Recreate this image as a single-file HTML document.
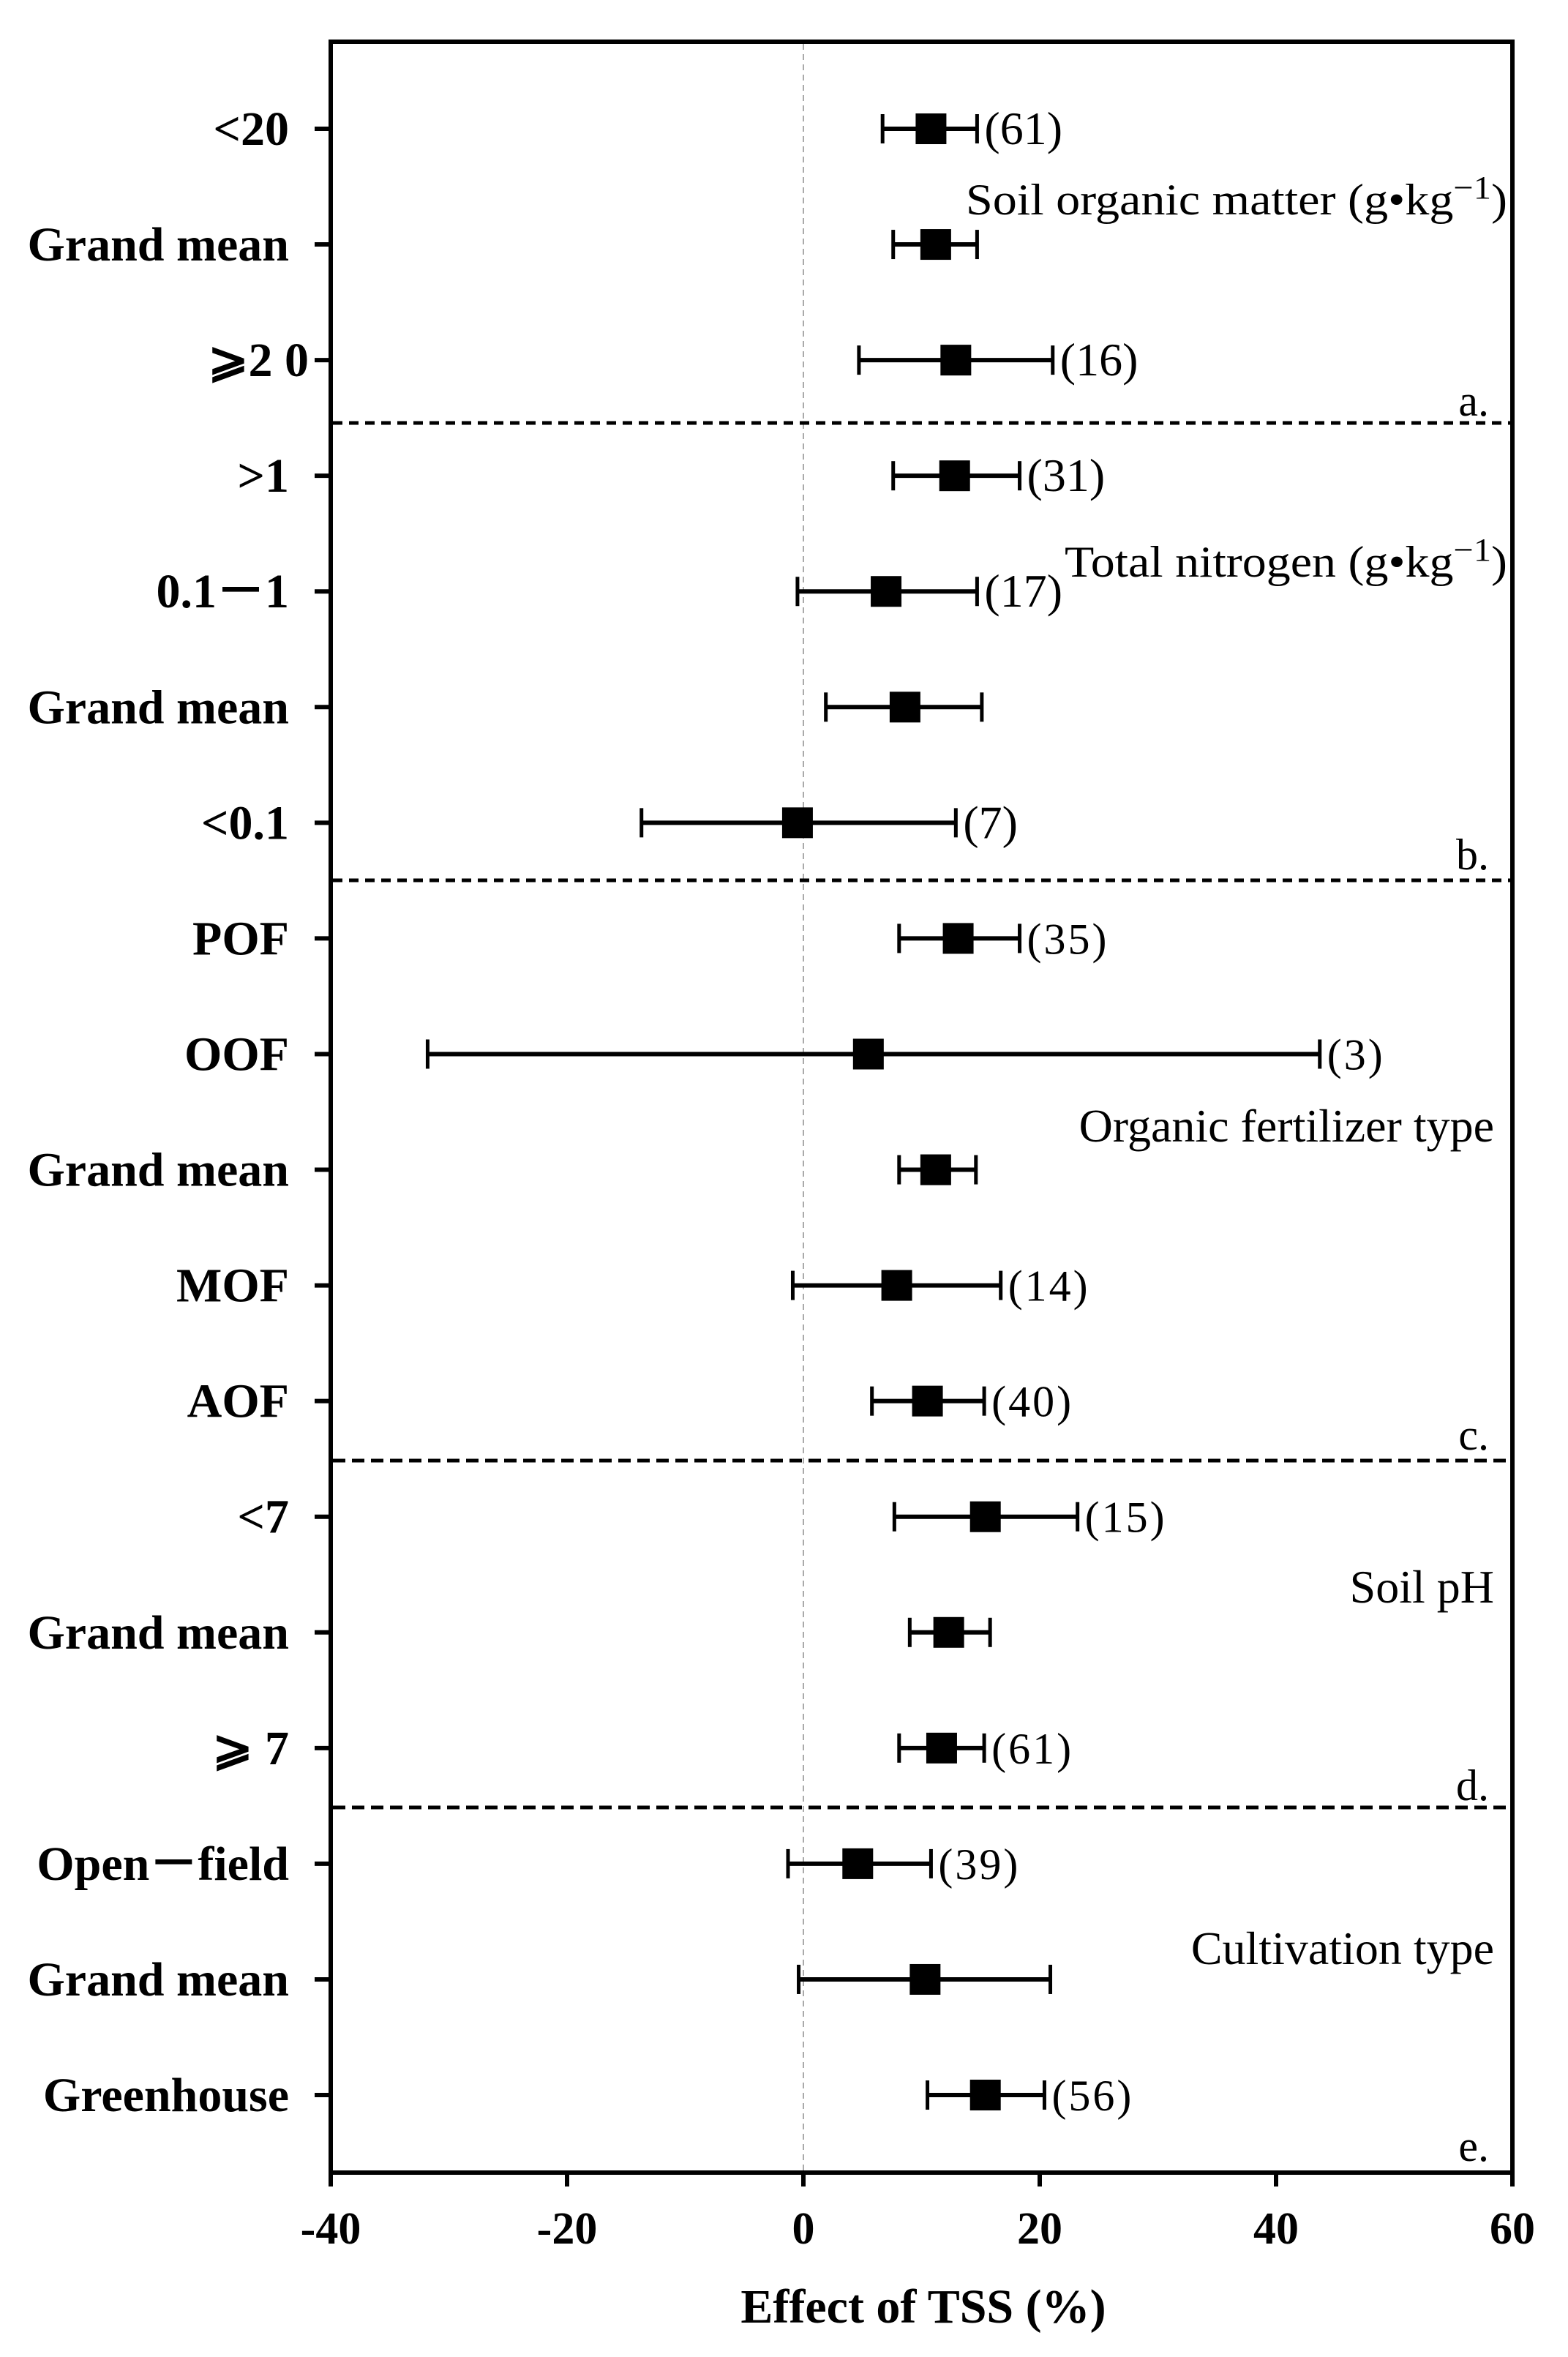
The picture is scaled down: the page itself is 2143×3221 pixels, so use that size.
<!DOCTYPE html>
<html><head><meta charset="utf-8"><style>html,body{margin:0;padding:0;background:#fff}svg{display:block}</style></head>
<body>
<svg width="2143" height="3221" viewBox="0 0 2143 3221" xmlns="http://www.w3.org/2000/svg" font-family="'Liberation Serif','DejaVu Serif',serif">
<rect width="2143" height="3221" fill="#fff"/>
<line x1="1098" y1="60" x2="1098" y2="2966" stroke="#aaa" stroke-width="2" stroke-dasharray="8,6"/>
<g stroke="#000" stroke-width="5" stroke-dasharray="13,9">
<line x1="455" y1="578" x2="2065" y2="578"/>
<line x1="455" y1="1203" x2="2065" y2="1203"/>
</g>
<g stroke="#000" stroke-width="5" stroke-dasharray="17,9">
<line x1="455" y1="1996" x2="2065" y2="1996"/>
<line x1="455" y1="2470" x2="2065" y2="2470"/>
</g>
<g stroke="#000" stroke-width="6" fill="none">
<line x1="452" y1="57" x2="2067" y2="57"/>
<line x1="452" y1="54" x2="452" y2="2988"/>
<line x1="2067" y1="54" x2="2067" y2="2988"/>
<line x1="449" y1="2969" x2="2070" y2="2969"/>
</g>
<g stroke="#000" stroke-width="6">
<line x1="775" y1="2969" x2="775" y2="2988"/>
<line x1="1098" y1="2969" x2="1098" y2="2988"/>
<line x1="1421" y1="2969" x2="1421" y2="2988"/>
<line x1="1744" y1="2969" x2="1744" y2="2988"/>
</g>
<g font-weight="bold" font-size="62" text-anchor="middle" fill="#000">
<text x="452" y="3066">-40</text><text x="775" y="3066">-20</text><text x="1098" y="3066">0</text>
<text x="1421" y="3066">20</text><text x="1744" y="3066">40</text><text x="2067" y="3066">60</text>
<text x="1262" y="3174" font-size="66">Effect of TSS  (%)</text>
</g>
<g stroke="#000" stroke-width="6" id="yt"></g>
<g id="labels" font-weight="bold" font-size="66" text-anchor="end" fill="#000"></g>
<g id="bars"></g>
<g font-size="60" fill="#000" text-anchor="end">
<text x="2060" y="293" textLength="740" lengthAdjust="spacingAndGlyphs">Soil organic matter (g•kg<tspan dy="-22" font-size="44">−1</tspan><tspan dy="22">)</tspan></text>
<text x="2060" y="788" textLength="605" lengthAdjust="spacingAndGlyphs">Total nitrogen (g•kg<tspan dy="-22" font-size="44">−1</tspan><tspan dy="22">)</tspan></text>
<text x="2042" y="1560" font-size="64">Organic fertilizer type</text>
<text x="2042" y="2190" font-size="64">Soil pH</text>
<text x="2042" y="2684" font-size="64">Cultivation type</text>
<text x="2035" y="568">a.</text>
<text x="2035" y="1188">b.</text>
<text x="2035" y="1981">c.</text>
<text x="2035" y="2460">d.</text>
<text x="2035" y="2953">e.</text>
</g>
<script>
var rows=[["<20",10.8,6.7,14.7,"(61)"],["Grand mean",11.2,7.6,14.7,""],["⩾2 0",12.9,4.7,21.1,"(16)"],
[">1",12.8,7.6,18.3,"(31)"],["0.1－1",7.0,-0.5,14.7,"(17)"],["Grand mean",8.6,1.9,15.1,""],["<0.1",-0.5,-13.7,12.9,"(7)"],
["POF",13.1,8.1,18.3,"(35)"],["OOF",5.5,-31.8,43.7,"(3)"],["Grand mean",11.2,8.1,14.6,""],["MOF",7.9,-0.9,16.7,"(14)"],["AOF",10.5,5.8,15.3,"(40)"],
["<7",15.4,7.7,23.2,"(15)"],["Grand mean",12.3,9.0,15.8,""],["⩾ 7",11.7,8.1,15.3,"(61)"],
["Open－field",4.6,-1.3,10.8,"(39)"],["Grand mean",10.3,-0.4,20.9,""],["Greenhouse",15.4,10.5,20.4,"(56)"]];
var NS="http://www.w3.org/2000/svg";
function el(p,t,a,txt){var e=document.createElementNS(NS,t);for(var k in a)e.setAttribute(k,a[k]);if(txt!=null)e.textContent=txt;p.appendChild(e);return e;}
var X=function(v){return 1098+16.15*v;};
var yt=document.getElementById("yt"),lb=document.getElementById("labels"),br=document.getElementById("bars");
rows.forEach(function(r,i){
 var y=176+158.06*i;
 el(yt,"line",{x1:430,y1:y,x2:452,y2:y});
 el(lb,"text",{x:(i==2?422:395),y:y+22},r[0]);
 var a=X(r[2]),b=X(r[3]),m=X(r[1]);
 el(br,"line",{x1:a,y1:y,x2:b,y2:y,stroke:"#000","stroke-width":6});
 el(br,"line",{x1:a,y1:y-20,x2:a,y2:y+20,stroke:"#000","stroke-width":5});
 el(br,"line",{x1:b,y1:y-20,x2:b,y2:y+20,stroke:"#000","stroke-width":5});
 el(br,"rect",{x:m-21,y:y-21,width:42,height:42,fill:"#000"});
 if(r[4]) el(br,"text",{x:b+10,y:y+21,"font-size":(i>=7?60:64),fill:"#000","letter-spacing":(i>=7?3:0)},r[4]);
});
</script>
</svg>
</body></html>
